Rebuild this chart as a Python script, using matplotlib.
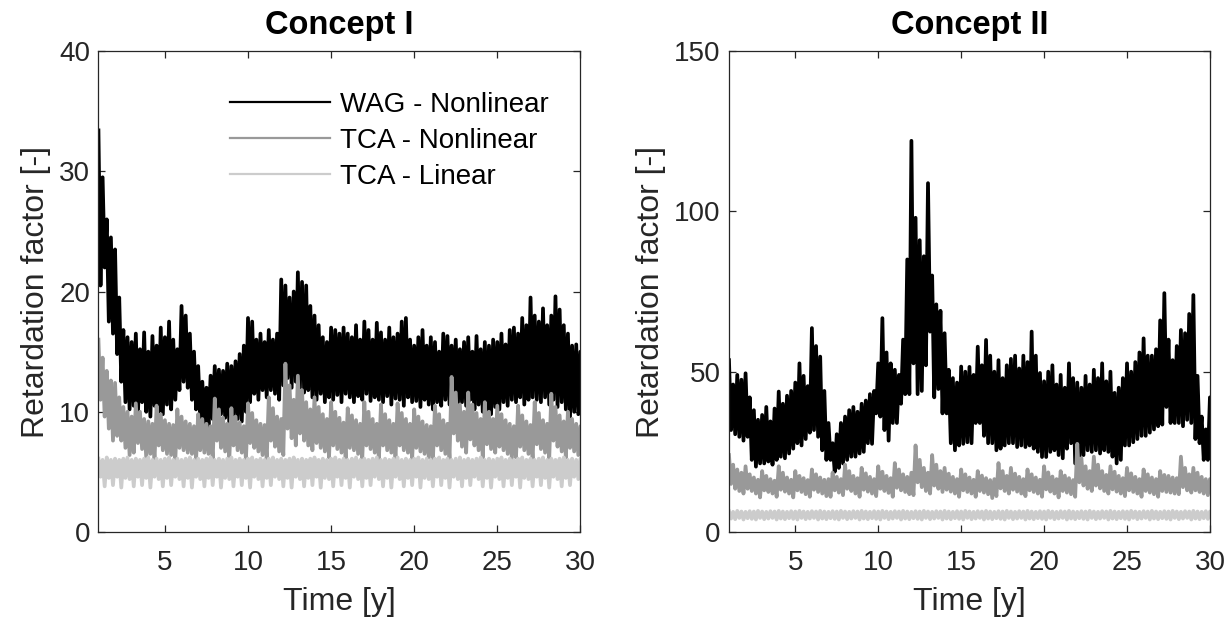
import numpy as np
import matplotlib
matplotlib.use("Agg")
import matplotlib.pyplot as plt

plt.rcParams['font.family'] = ['Liberation Sans', 'DejaVu Sans']

# time axis (years), one sample every quarter year
years = np.arange(1.0, 30.001, 0.25)

# ---- Concept I : upper / lower edge of each noisy band ----
wag1_hi = [
    33.4, 29.5, 26.0, 24.5,
    23.5, 19.5, 16.8, 16.2,
    15.8, 16.5, 15.2, 16.6,
    15.0, 16.3, 15.5, 17.0,
    16.2, 17.5, 16.0, 15.2,
    18.8, 18.0, 16.5, 15.0,
    13.8, 12.5, 12.0, 13.0,
    13.8, 13.5, 13.4, 14.0,
    13.8, 14.2, 14.8, 15.5,
    17.8, 17.5, 16.0, 16.5,
    15.8, 16.8, 16.0, 16.5,
    21.0, 20.5, 19.5, 20.0,
    21.6, 20.8, 20.5, 18.8,
    18.0, 17.2, 16.2, 15.8,
    17.0, 16.8, 16.5, 17.0,
    16.5, 16.2, 17.2, 16.0,
    17.5, 16.8, 16.0, 17.4,
    16.6, 16.0, 17.0, 16.2,
    16.5, 17.5, 17.8, 16.0,
    15.5, 16.2, 16.8, 15.5,
    16.2, 15.8, 15.0, 16.5,
    16.3, 15.5, 16.0, 15.2,
    15.8, 16.2, 15.0, 16.3,
    15.2, 15.8, 15.5, 16.0,
    15.8, 16.5, 15.6, 16.8,
    17.0, 16.5, 17.8, 17.2,
    19.5, 18.0, 17.5, 18.6,
    17.2, 18.0, 19.6, 18.5,
    17.2, 16.5, 15.5, 15.6,
    15.0]
wag1_lo = [
    20.5, 22.0, 17.5, 16.5,
    14.8, 12.5, 10.8, 10.2,
    10.5, 9.8, 10.8, 10.0,
    9.6, 10.5, 10.0, 9.8,
    10.6, 10.2, 11.0, 11.8,
    12.5, 12.0, 11.0, 10.2,
    9.5, 9.0, 8.8, 9.4,
    9.2, 9.8, 9.5, 9.0,
    9.6, 9.4, 9.2, 10.0,
    10.8, 11.5, 11.0, 11.8,
    11.2, 11.8, 11.5, 11.0,
    12.2, 12.8, 12.0, 12.5,
    12.0, 11.6, 11.8, 11.2,
    11.0, 11.5, 10.8, 11.2,
    11.0, 11.4, 10.8, 11.5,
    11.2, 10.8, 11.3, 11.0,
    11.5, 10.9, 11.2, 11.0,
    10.8, 11.3, 10.6, 11.1,
    11.0, 10.5, 11.2, 10.8,
    10.9, 10.4, 11.0, 10.6,
    10.2, 10.8, 10.5, 11.0,
    10.6, 10.9, 10.4, 10.8,
    10.5, 11.0, 10.2, 10.6,
    10.0, 9.5, 9.8, 10.4,
    10.2, 10.8, 10.5, 11.0,
    10.8, 11.2, 10.6, 11.0,
    11.2, 11.0, 10.8, 11.2,
    10.6, 11.0, 10.4, 10.8,
    10.2, 9.6, 10.0, 9.8,
    10.0]
tcanl1_hi = [
    16.0, 14.5, 13.4, 12.6,
    12.4, 11.2, 10.4, 10.0,
    9.6, 10.7, 10.0, 9.4,
    9.2, 9.0, 10.5, 9.8,
    9.3, 9.0, 8.9, 10.2,
    9.6, 9.2, 9.0, 8.8,
    9.8, 9.4, 9.0, 8.8,
    11.1, 10.2, 9.5, 9.0,
    10.3, 9.6, 9.1, 8.8,
    10.7, 9.9, 9.3, 9.0,
    8.9, 11.2, 10.3, 9.6,
    9.4, 14.0, 12.2, 11.0,
    13.0, 11.8, 10.8, 10.2,
    11.2, 10.4, 9.8, 9.4,
    10.8, 10.0, 9.5, 9.1,
    10.3, 9.7, 9.3, 9.0,
    10.8, 10.0, 9.4, 9.0,
    10.6, 9.8, 9.3, 9.0,
    10.7, 9.9, 9.4, 9.0,
    10.2, 9.6, 9.2, 8.9,
    8.8, 10.5, 9.8, 9.3,
    9.0, 12.9, 11.6, 10.6,
    10.0, 11.6, 10.6, 9.9,
    9.4, 10.8, 10.0, 9.4,
    10.5, 9.8, 9.3, 9.0,
    8.8, 10.5, 9.7, 9.2,
    8.9, 10.8, 9.9, 9.3,
    9.0, 11.5, 10.4, 9.7,
    9.2, 10.0, 9.4, 9.0,
    8.8]
tcanl1_lo = [
    11.0, 9.6, 8.6, 7.6,
    8.0, 7.6, 7.0, 6.4,
    6.6, 7.4, 6.9, 6.2,
    6.5, 6.0, 7.2, 6.8,
    6.5, 6.4, 6.0, 7.0,
    6.8, 6.6, 6.5, 6.0,
    6.8, 6.6, 6.5, 6.0,
    7.6, 7.0, 6.7, 6.1,
    7.2, 6.8, 6.6, 6.0,
    7.4, 7.0, 6.7, 6.4,
    6.0, 7.6, 7.1, 6.7,
    6.4, 8.6, 7.8, 7.2,
    8.2, 7.6, 7.2, 6.8,
    7.4, 7.0, 6.7, 6.2,
    7.2, 6.9, 6.6, 6.1,
    7.0, 6.8, 6.5, 6.1,
    7.2, 6.9, 6.6, 6.0,
    7.2, 6.8, 6.6, 6.1,
    7.2, 6.8, 6.6, 6.0,
    7.0, 6.7, 6.5, 6.2,
    6.0, 7.2, 6.8, 6.5,
    6.1, 8.2, 7.6, 7.1,
    6.6, 7.7, 7.2, 6.8,
    6.2, 7.3, 6.9, 6.6,
    7.1, 6.8, 6.5, 6.1,
    6.2, 7.1, 6.8, 6.5,
    6.0, 7.3, 6.9, 6.6,
    6.1, 7.6, 7.1, 6.7,
    6.2, 7.0, 6.7, 6.4,
    6.8]
tcal1_hi = [
    6.1, 6.0, 6.2, 6.0,
    6.1, 6.0, 6.1, 6.2,
    6.0, 6.1, 6.0, 6.1,
    6.2, 6.0, 6.1, 6.0,
    6.1, 6.2, 6.0, 6.1,
    6.0, 6.1, 6.2, 6.0,
    6.1, 6.0, 6.1, 6.2,
    6.0, 6.1, 6.0, 6.1,
    6.2, 6.0, 6.1, 6.0,
    6.1, 6.2, 6.0, 6.1,
    6.0, 6.1, 6.2, 6.0,
    6.1, 6.0, 6.1, 6.2,
    6.0, 6.1, 6.0, 6.1,
    6.2, 6.0, 6.1, 6.0,
    6.1, 6.2, 6.0, 6.1,
    6.0, 6.1, 6.2, 6.0,
    6.1, 6.0, 6.1, 6.2,
    6.0, 6.1, 6.0, 6.1,
    6.2, 6.0, 6.1, 6.0,
    6.1, 6.2, 6.0, 6.1,
    6.0, 6.1, 6.2, 6.0,
    6.1, 6.0, 6.1, 6.2,
    6.0, 6.1, 6.0, 6.1,
    6.2, 6.0, 6.1, 6.0,
    6.1, 6.2, 6.0, 6.1,
    6.0, 6.1, 6.2, 6.0,
    6.1, 6.0, 6.1, 6.2,
    6.0, 6.1, 6.0, 6.1,
    6.2, 6.0, 6.1, 6.0,
    6.1]
tcal1_lo = [
    4.6, 3.8, 4.5, 3.9,
    4.6, 3.7, 4.5, 4.4,
    3.8, 4.6, 3.9, 4.5,
    3.7, 4.6, 4.4, 3.8,
    4.5, 3.9, 4.6, 4.4,
    3.8, 4.5, 3.7, 4.6,
    4.4, 3.8, 4.5, 3.9,
    4.6, 3.7, 4.5, 4.4,
    3.8, 4.6, 3.9, 4.5,
    3.7, 4.6, 4.4, 3.8,
    4.5, 3.9, 4.6, 4.4,
    3.8, 4.5, 3.7, 4.6,
    4.4, 3.8, 4.5, 3.9,
    4.6, 3.7, 4.5, 4.4,
    3.8, 4.6, 3.9, 4.5,
    3.7, 4.6, 4.4, 3.8,
    4.5, 3.9, 4.6, 4.4,
    3.8, 4.5, 3.7, 4.6,
    4.4, 3.8, 4.5, 3.9,
    4.6, 3.7, 4.5, 4.4,
    3.8, 4.6, 3.9, 4.5,
    3.7, 4.6, 4.4, 3.8,
    4.5, 3.9, 4.6, 4.4,
    3.8, 4.5, 3.7, 4.6,
    4.4, 3.8, 4.5, 3.9,
    4.6, 3.7, 4.5, 4.4,
    3.8, 4.6, 3.9, 4.5,
    3.7, 4.6, 4.4, 3.8,
    4.5, 3.9, 4.6, 4.4,
    4.5]

# ---- Concept II ----
wag2_hi = [
    53.6, 46.0, 49.0, 47.5,
    49.5, 42.0, 38.0, 35.0,
    36.5, 39.0, 34.5, 38.5,
    43.8, 40.0, 42.5, 44.0,
    46.6, 52.6, 48.7, 45.5,
    63.6, 58.0, 54.7, 44.0,
    34.0, 27.7, 30.5, 34.0,
    36.0, 38.0, 39.0, 37.5,
    40.0, 41.0, 43.0, 44.0,
    52.6, 66.7, 56.0, 52.6,
    50.6, 49.0, 60.0, 85.0,
    122.0, 98.0, 91.0, 86.0,
    108.8, 80.0, 71.0, 69.0,
    62.0, 50.6, 48.0, 46.6,
    51.6, 50.0, 51.5, 49.0,
    57.8, 52.0, 59.9, 55.0,
    50.0, 53.6, 48.0, 52.0,
    54.0, 55.0, 51.0, 55.0,
    53.0, 62.5, 55.0, 49.6,
    47.0, 50.0, 52.0, 46.0,
    49.0, 45.0, 52.6, 48.0,
    46.6, 45.0, 48.7, 46.0,
    50.6, 48.0, 52.6, 47.0,
    50.0, 43.4, 45.0, 48.0,
    52.6, 50.0, 53.0, 56.0,
    60.4, 55.0, 55.0, 57.0,
    66.0, 74.5, 60.0, 53.6,
    58.0, 63.0, 62.0, 68.0,
    73.9, 48.7, 36.0, 32.0,
    42.0]
wag2_lo = [
    31.8, 30.5, 29.7, 28.5,
    29.7, 22.5, 20.4, 21.4,
    21.4, 22.0, 21.0, 22.5,
    23.5, 23.0, 24.5, 26.0,
    27.7, 27.0, 29.0, 31.0,
    31.8, 29.7, 25.5, 22.5,
    22.5, 18.8, 20.0, 21.4,
    22.5, 23.5, 23.5, 24.5,
    25.0, 27.7, 27.5, 37.0,
    36.0, 31.8, 28.5, 34.0,
    34.0, 40.0, 43.0, 43.0,
    52.6, 43.0, 44.0, 52.0,
    62.5, 42.0, 44.6, 37.0,
    37.0, 27.7, 25.5, 27.0,
    27.5, 28.0, 27.7, 34.0,
    34.0, 30.0, 27.7, 27.7,
    25.5, 26.0, 27.0, 27.7,
    27.7, 26.5, 27.0, 26.5,
    27.0, 26.0, 25.0, 23.4,
    23.4, 25.0, 25.5, 24.0,
    23.0, 26.0, 27.7, 21.4,
    21.4, 24.0, 25.5, 25.0,
    25.5, 24.5, 25.5, 25.0,
    23.5, 21.4, 22.5, 27.0,
    27.0, 28.0, 29.0, 30.0,
    30.0, 31.0, 32.0, 33.0,
    33.5, 39.0, 34.0, 34.0,
    34.0, 33.0, 35.0, 34.0,
    29.0, 27.7, 22.5, 22.5,
    24.0]
tcanl2_hi = [
    24.0, 21.0, 19.5, 18.5,
    20.5, 18.0, 17.0, 16.3,
    19.0, 17.5, 16.5, 16.0,
    20.5, 18.5, 17.0, 16.3,
    19.0, 17.5, 16.8, 16.2,
    19.5, 18.0, 17.0, 16.3,
    16.5, 18.5, 17.2, 16.5,
    21.0, 19.0, 17.5, 16.8,
    20.0, 18.3, 17.2, 16.5,
    20.5, 18.8, 17.5, 16.8,
    21.5, 19.5, 18.0, 17.2,
    18.5, 27.0, 22.5, 20.0,
    18.5, 24.0, 21.0, 19.0,
    20.0, 18.2, 17.2, 16.5,
    19.5, 18.0, 17.0, 16.3,
    19.0, 17.6, 16.8, 16.2,
    16.5, 21.5, 19.0, 17.5,
    20.0, 18.2, 17.2, 16.5,
    19.5, 18.0, 17.0, 16.3,
    20.5, 18.6, 17.3, 16.5,
    19.0, 17.6, 16.8, 16.2,
    27.5, 23.0, 20.5, 19.0,
    23.5, 21.0, 19.0, 17.8,
    20.5, 18.8, 17.5, 16.8,
    20.0, 18.3, 17.2, 16.5,
    19.5, 18.0, 17.0, 16.5,
    19.0, 17.8, 17.5, 17.0,
    16.8, 23.5, 20.0, 18.0,
    20.0, 18.5, 17.2, 16.5,
    16.5]
tcanl2_lo = [
    15.0, 13.5, 12.8, 12.0,
    13.5, 12.8, 12.0, 10.8,
    13.0, 12.5, 12.0, 11.0,
    13.2, 12.6, 12.0, 10.8,
    13.0, 12.5, 11.8, 11.0,
    13.2, 12.5, 12.0, 11.2,
    11.0, 13.0, 12.3, 11.5,
    13.5, 12.8, 12.0, 11.0,
    13.2, 12.6, 12.0, 11.2,
    13.5, 12.8, 12.2, 11.0,
    13.8, 13.0, 12.5, 11.8,
    11.5, 15.5, 14.0, 12.8,
    12.0, 14.5, 13.5, 12.5,
    13.2, 12.6, 12.0, 11.0,
    13.0, 12.5, 12.0, 11.0,
    12.8, 12.3, 11.8, 10.6,
    11.2, 13.6, 12.8, 12.0,
    13.2, 12.6, 12.0, 11.2,
    13.0, 12.5, 12.0, 11.0,
    13.3, 12.6, 12.0, 10.8,
    12.8, 12.3, 11.8, 11.0,
    15.5, 14.5, 13.5, 12.8,
    14.5, 13.6, 12.8, 12.0,
    13.3, 12.6, 12.0, 11.2,
    13.0, 12.5, 12.0, 11.0,
    12.8, 12.3, 11.8, 11.0,
    12.8, 12.5, 12.3, 12.0,
    11.8, 14.0, 13.0, 12.3,
    13.0, 12.5, 12.0, 11.5,
    12.0]
tcal2_hi = [
    6.5, 6.3, 6.6, 6.4,
    6.3, 6.5, 6.4, 6.6,
    6.4, 6.3, 6.5, 6.4,
    6.6, 6.4, 6.3, 6.5,
    6.4, 6.6, 6.4, 6.3,
    6.5, 6.4, 6.6, 6.4,
    6.3, 6.5, 6.4, 6.6,
    6.4, 6.3, 6.5, 6.4,
    6.6, 6.4, 6.3, 6.5,
    6.4, 6.6, 6.4, 6.3,
    6.5, 6.4, 6.6, 6.4,
    6.3, 6.5, 6.4, 6.6,
    6.4, 6.3, 6.5, 6.4,
    6.6, 6.4, 6.3, 6.5,
    6.4, 6.6, 6.4, 6.3,
    6.5, 6.4, 6.6, 6.4,
    6.3, 6.5, 6.4, 6.6,
    6.4, 6.3, 6.5, 6.4,
    6.6, 6.4, 6.3, 6.5,
    6.4, 6.6, 6.4, 6.3,
    6.5, 6.4, 6.6, 6.4,
    6.3, 6.5, 6.4, 6.6,
    6.4, 6.3, 6.5, 6.4,
    6.6, 6.4, 6.3, 6.5,
    6.4, 6.6, 6.4, 6.3,
    6.5, 6.4, 6.6, 6.4,
    6.3, 6.5, 6.4, 6.6,
    6.4, 6.3, 6.5, 6.4,
    6.6, 6.4, 6.3, 6.5,
    6.4]
tcal2_lo = [
    4.2, 4.0, 4.4, 3.9,
    4.3, 4.1, 3.9, 4.4,
    4.0, 4.2, 4.4, 3.9,
    4.2, 4.0, 4.3, 4.1,
    3.9, 4.4, 4.0, 4.2,
    4.4, 3.9, 4.2, 4.0,
    4.3, 4.1, 3.9, 4.4,
    4.0, 4.2, 4.4, 3.9,
    4.2, 4.0, 4.3, 4.1,
    3.9, 4.4, 4.0, 4.2,
    4.4, 3.9, 4.2, 4.0,
    4.3, 4.1, 3.9, 4.4,
    4.0, 4.2, 4.4, 3.9,
    4.2, 4.0, 4.3, 4.1,
    3.9, 4.4, 4.0, 4.2,
    4.4, 3.9, 4.2, 4.0,
    4.3, 4.1, 3.9, 4.4,
    4.0, 4.2, 4.4, 3.9,
    4.2, 4.0, 4.3, 4.1,
    3.9, 4.4, 4.0, 4.2,
    4.4, 3.9, 4.2, 4.0,
    4.3, 4.1, 3.9, 4.4,
    4.0, 4.2, 4.4, 3.9,
    4.2, 4.0, 4.3, 4.1,
    3.9, 4.4, 4.0, 4.2,
    4.4, 3.9, 4.2, 4.0,
    4.3, 4.1, 3.9, 4.4,
    4.0, 4.2, 4.4, 3.9,
    4.2, 4.0, 4.3, 4.1,
    4.2]

labels = ['WAG - Nonlinear', 'TCA - Nonlinear', 'TCA - Linear']
colors = ['#000000', '#999999', '#cccccc']
titles = ['Concept I', 'Concept II']


def band(ax, t, hi, lo, color, label):
    # alternate between upper and lower edge -> dense oscillating trace
    x = np.empty(2 * len(t))
    y = np.empty(2 * len(t))
    x[0::2] = t
    x[1::2] = t + 0.125
    y[0::2] = hi
    y[1::2] = lo
    ax.plot(x, y, color=color, lw=2.7, label=label)


fig = plt.figure(figsize=(12.32, 6.24), dpi=100)
ax1 = fig.add_axes([0.0799, 0.1474, 0.3912, 0.7708])
ax2 = fig.add_axes([0.5917, 0.1474, 0.3904, 0.7708])

panels = [
    (ax1, [(wag1_hi, wag1_lo), (tcanl1_hi, tcanl1_lo), (tcal1_hi, tcal1_lo)], 40, [0, 10, 20, 30, 40]),
    (ax2, [(wag2_hi, wag2_lo), (tcanl2_hi, tcanl2_lo), (tcal2_hi, tcal2_lo)], 150, [0, 50, 100, 150]),
]

for k, (ax, series, ymax, yt) in enumerate(panels):
    for (hi, lo), c, lab in zip(series, colors, labels):
        band(ax, years, np.array(hi), np.array(lo), c, lab)
    ax.set_xlim(1, 30)
    ax.set_ylim(0, ymax)
    ax.set_xticks([5, 10, 15, 20, 25, 30])
    ax.set_yticks(yt)
    ax.tick_params(direction='in', top=True, right=True, length=5, width=0.9,
                   labelsize=20, colors='#262626')
    ax.tick_params(axis='x', pad=13)
    ax.tick_params(axis='y', pad=6)
    for s in ax.spines.values():
        s.set_color('#262626')
        s.set_linewidth(0.9)
    ax.set_xlabel('Time [y]', fontsize=23, color='#262626', labelpad=8)
    ax.set_ylabel('Retardation factor [-]', fontsize=23, color='#262626', labelpad=6)
    ax.set_title(titles[k], fontsize=23.5, fontweight='bold', pad=12)

leg = ax1.legend(loc='upper left', bbox_to_anchor=(0.273, 0.915), frameon=False,
                 fontsize=20, handlelength=3.6, handletextpad=0.35, labelspacing=0.36,
                 borderpad=0, borderaxespad=0)
for ln in leg.get_lines():
    ln.set_linewidth(1.6)

fig.savefig('out.png', dpi=100)
